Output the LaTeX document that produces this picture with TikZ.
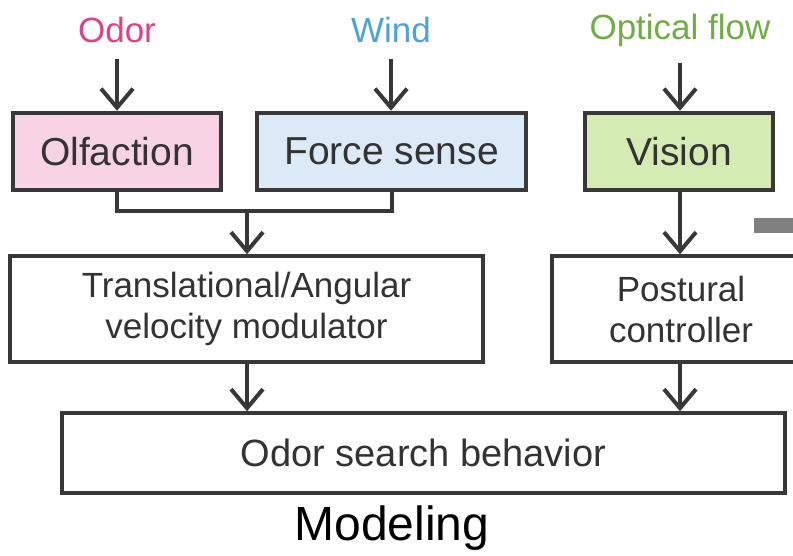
\documentclass[tikz,border=0pt]{standalone}
\usepackage{fontspec}
\setmainfont{Liberation Sans}
\usetikzlibrary{arrows.meta}
\newcommand\fsz[1]{\fontsize{#1pt}{#1pt}\selectfont}
\definecolor{linec}{HTML}{383838}
\definecolor{txtc}{HTML}{333333}
\definecolor{pinkf}{HTML}{F8D3E3}
\definecolor{bluef}{HTML}{DCE9F7}
\definecolor{greenf}{HTML}{D4EBB3}
\definecolor{odorc}{HTML}{DC4189}
\definecolor{windc}{HTML}{4BA3DC}
\definecolor{optc}{HTML}{6FAF42}
\tikzset{
  topbox/.style={draw=linec, line width=4.5pt, inner sep=0pt, text=txtc, font=\fsz{39}},
  midbox/.style={draw=linec, line width=3.5pt, inner sep=0pt, fill=white, text=txtc, align=center, font=\fontsize{35pt}{41pt}\selectfont},
  lab/.style={inner sep=0pt, font=\fsz{35}},
  conn/.style={draw=linec, line width=4pt},
  arr/.style={conn, -{Straight Barb[length=19pt,width=32pt,line width=4pt]}}
}
\begin{document}
\begin{tikzpicture}[x=1pt,y=-1pt]
\useasboundingbox (0,0) rectangle (793,556);
\clip (0,0) rectangle (793,556);
\fill[white] (0,0) rectangle (793,556);
% labels
\node[lab, text=odorc] (odor) at (117,30) {Odor};
\node[lab, text=windc] (wind) at (391,30) {Wind};
\node[lab, text=optc] (opt) at (680,30) {Optical flow};
% top boxes
\node[topbox, fill=pinkf, minimum width=208pt, minimum height=77pt] (olf) at (117,151.5) {Olfaction};
\node[topbox, fill=bluef, minimum width=269pt, minimum height=77pt] (force) at (391.5,151.5) {Force sense};
\node[topbox, fill=greenf, minimum width=188pt, minimum height=77pt] (vis) at (679,151.5) {Vision};
% mid boxes
\node[midbox, minimum width=473pt, minimum height=106pt] (trans) at (246.5,309) {Translational/Angular\\velocity modulator};
\node[midbox, minimum width=258pt, minimum height=106pt] (post) at (681,309) {Postural\\controller};
% bottom box
\node[midbox, minimum width=723pt, minimum height=80pt, font=\fsz{38}] (search) at (423.5,453) {Odor search behavior};
\node[inner sep=0pt, font=\fsz{48}, text=black] (model) at (392,528) {Modeling};
% side bar
\fill[black!50] (754,218) rectangle (800,233);
% connectors
\draw[arr, shorten <=16pt] (odor.south) -- (odor.south |- olf.north);
\draw[arr, shorten <=16pt] (wind.south) -- (wind.south |- force.north);
\draw[arr, shorten <=16pt] (opt.south) -- (opt.south |- vis.north);
\coordinate (j) at (247,211);
\draw[conn] (olf.south) |- (j) -| (force.south);
\draw[arr] (j) -- (j |- trans.north);
\draw[arr] (vis.south -| opt.south) -- (opt.south |- post.north);
\draw[arr] (trans.south -| j) -- (j |- search.north);
\draw[arr] (post.south -| opt.south) -- (opt.south |- search.north);
\end{tikzpicture}
\end{document}
